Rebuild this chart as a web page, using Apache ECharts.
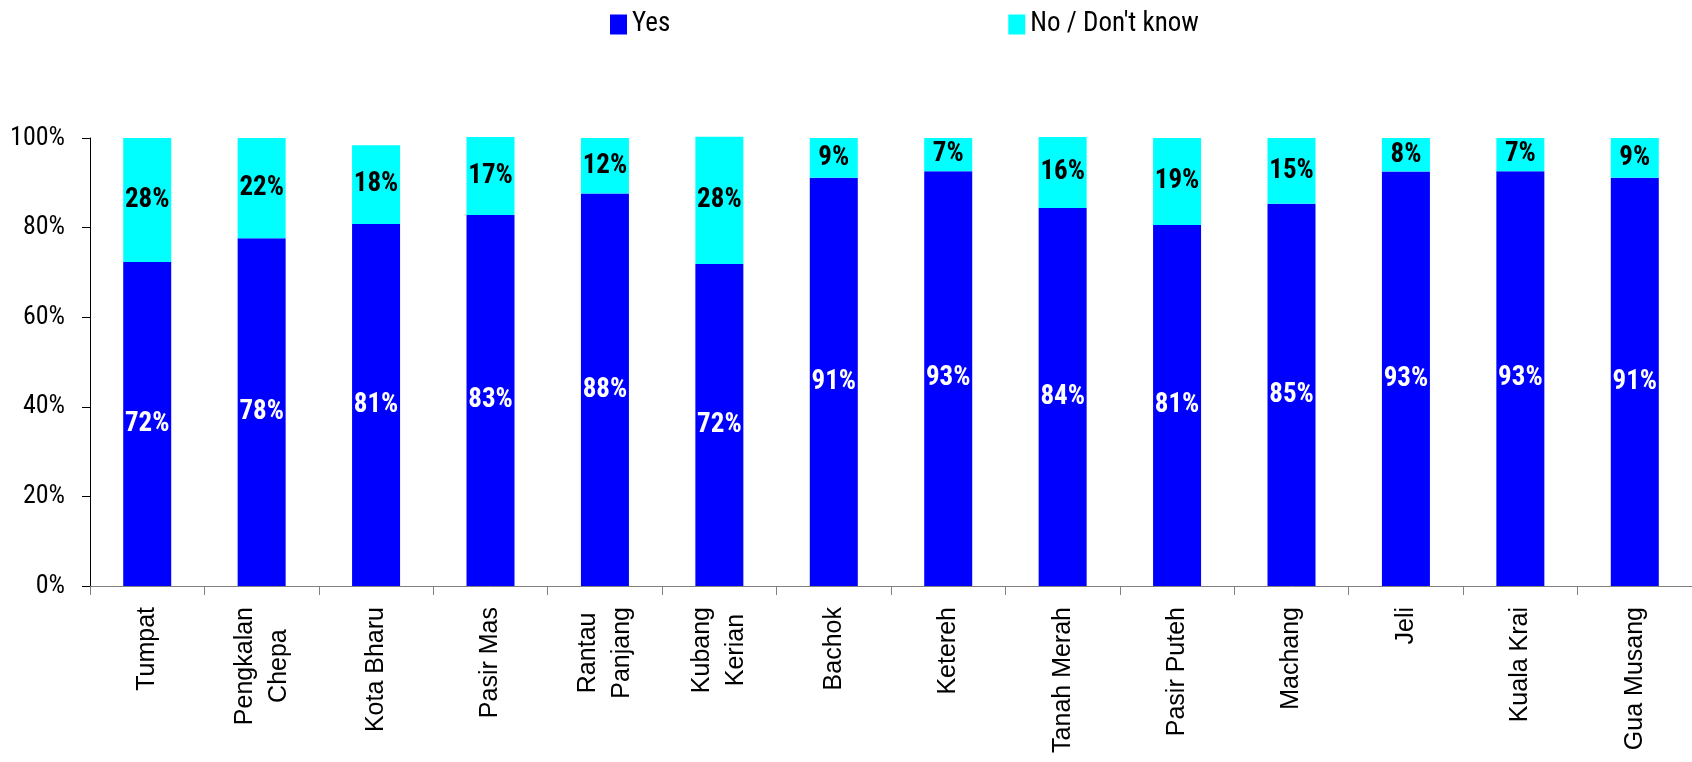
<!DOCTYPE html>
<html>
<head>
<meta charset="utf-8">
<script src="https://cdn.jsdelivr.net/npm/echarts@6/dist/echarts.min.js"></script>
<style>
html,body{margin:0;padding:0;background:#fff;}
#c{width:1692px;height:762px;}
</style>
</head>
<body>
<div id="c"></div>
<script>
const categories = ['Tumpat','Pengkalan\nChepa','Kota Bharu','Pasir Mas','Rantau\nPanjang','Kubang\nKerian','Bachok','Ketereh','Tanah Merah','Pasir Puteh','Machang','Jeli','Kuala Krai','Gua Musang'];
const yesValues = [72.3, 77.6, 80.8, 82.8, 87.6, 71.9, 91.1, 92.6, 84.4, 80.6, 85.3, 92.5, 92.6, 91.1];
const noValues  = [27.7, 22.4, 17.6, 17.4, 12.4, 28.4, 8.9, 7.4, 15.8, 19.4, 14.7, 7.5, 7.4, 8.9];
const yesLabels = [72, 78, 81, 83, 88, 72, 91, 93, 84, 81, 85, 93, 93, 91];
const noLabels  = [28, 22, 18, 17, 12, 28, 9, 7, 16, 19, 15, 8, 7, 9];
const yTicks = [0, 20, 40, 60, 80, 100];

const narrow = "Roboto, 'DejaVu Sans Condensed', sans-serif";
const chart = echarts.init(document.getElementById('c'), null, {renderer: 'canvas'});
chart.setOption({
  animation: false,
  backgroundColor: '#ffffff',
  legend: {
    left: 605, top: 6,
    itemWidth: 17, itemHeight: 20, itemGap: 338,
    icon: 'rect',
    textStyle: {fontFamily: narrow, fontStyle: 'condensed', fontSize: 27, color: '#000'},
    data: ['Yes', 'No / Don\'t know']
  },
  grid: {left: 90, top: 138, width: 1607, height: 448, containLabel: false},
  xAxis: {
    type: 'category',
    data: categories,
    axisLine: {show: true, lineStyle: {color: '#808080', width: 1}},
    axisTick: {show: true, length: 9, lineStyle: {color: '#808080'}},
    axisLabel: {
      rotate: 90, margin: 21, interval: 0,
      formatter: v => v.split('\n').map(s => '{c|' + s + '}').join('\n'),
      rich: {c: {align: 'center', fontFamily: "'Liberation Sans', Arial, sans-serif", fontSize: 25, lineHeight: 34, color: '#000'}}
    }
  },
  yAxis: {
    type: 'value', min: yTicks[0], max: yTicks[yTicks.length - 1], interval: 20,
    axisLine: {show: true, lineStyle: {color: '#000', width: 1}},
    axisTick: {show: true, length: 8, lineStyle: {color: '#000'}},
    splitLine: {show: false},
    axisLabel: {formatter: '{value}%', margin: 25, fontFamily: narrow, fontStyle: 'condensed', fontSize: 26, color: '#000'}
  },
  series: [
    {
      name: 'Yes', type: 'bar', stack: 'a', barWidth: 48, clip: false,
      itemStyle: {color: '#0000FF'},
      label: {show: true, position: 'inside', color: '#fff', fontWeight: 'bold', fontStyle: 'condensed', fontFamily: narrow, fontSize: 27,
        formatter: p => yesLabels[p.dataIndex] + '%'},
      data: yesValues
    },
    {
      name: 'No / Don\'t know', type: 'bar', stack: 'a', barWidth: 48, clip: false,
      itemStyle: {color: '#00FFFF'},
      label: {show: true, position: 'inside', color: '#000', fontWeight: 'bold', fontStyle: 'condensed', fontFamily: narrow, fontSize: 27,
        formatter: p => noLabels[p.dataIndex] + '%'},
      data: noValues
    }
  ]
});
</script>
</body>
</html>
